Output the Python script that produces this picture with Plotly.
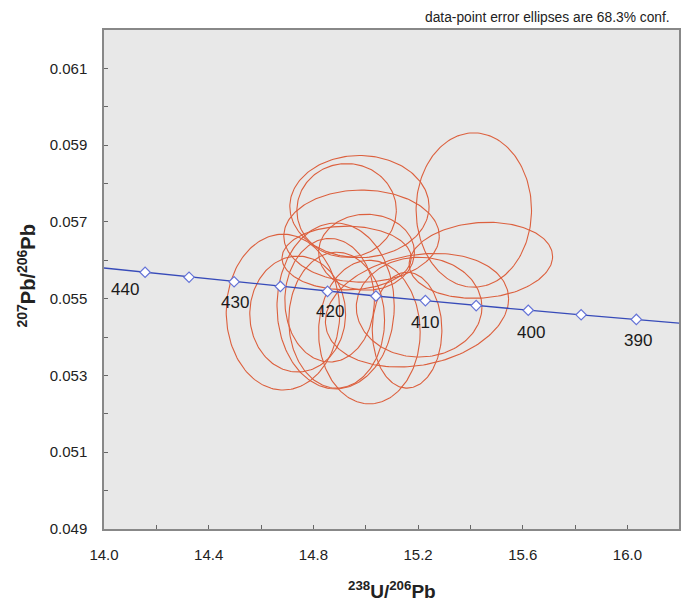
import numpy as np
import plotly.graph_objects as go

# Concordia (Tera-Wasserburg) marker points
conc_age = [440, 435, 430, 425, 420, 415, 410, 405, 400, 395, 390]
conc_x = [14.157, 14.325, 14.497, 14.674, 14.854, 15.039, 15.228, 15.422, 15.621, 15.823, 16.034]
conc_y = [0.05569, 0.05556, 0.05544, 0.05532, 0.05519, 0.05507, 0.05495, 0.05482, 0.05470, 0.05458, 0.05446]
# line end points at plot edges
line_x = [14.0] + conc_x + [16.2]
line_y = [0.05580] + conc_y + [0.05436]
label_ages = [440, 430, 420, 410, 400, 390]

# Error ellipses: centre, half-extent x, half-extent y, correlation
ell_x = [15.413, 15.440, 14.976, 14.927, 14.984, 15.003, 14.684, 14.740, 15.014, 14.889, 15.158, 15.196, 15.204, 14.862, 14.885, 14.927]
ell_y = [0.05731, 0.05600, 0.05740, 0.05730, 0.05663, 0.05621, 0.05465, 0.05460, 0.05413, 0.05444, 0.05418, 0.05470, 0.05478, 0.05496, 0.05481, 0.05606]
ell_ax = [0.2205, 0.274, 0.266, 0.190, 0.297, 0.183, 0.217, 0.183, 0.194, 0.183, 0.133, 0.350, 0.240, 0.171, 0.224, 0.247]
ell_ay = [0.00201, 0.00099, 0.00133, 0.00122, 0.00120, 0.00099, 0.00203, 0.00151, 0.00187, 0.00177, 0.00151, 0.00148, 0.00130, 0.00161, 0.00216, 0.00083]
ell_rho = [0.0, 0.1, 0.0, 0.0, 0.0, 0.0, 0.0, 0.0, 0.0, 0.0, 0.0, 0.2, 0.0, 0.0, 0.0, 0.0]

x_ticks = [14.0, 14.4, 14.8, 15.2, 15.6, 16.0]
y_ticks = [0.049, 0.051, 0.053, 0.055, 0.057, 0.059, 0.061]

fig = go.Figure()

t = np.linspace(0, 2 * np.pi, 181)
for cx, cy, ax, ay, r in zip(ell_x, ell_y, ell_ax, ell_ay, ell_rho):
    ex = cx + ax * np.cos(t)
    ey = cy + ay * (r * np.cos(t) + np.sqrt(1 - r * r) * np.sin(t))
    fig.add_trace(go.Scatter(x=ex, y=ey, mode="lines",
                             line=dict(color="rgb(220,96,62)", width=1.1),
                             hoverinfo="skip", showlegend=False))

fig.add_trace(go.Scatter(x=line_x, y=line_y, mode="lines",
                         line=dict(color="rgb(55,75,185)", width=1.3),
                         showlegend=False, hoverinfo="skip"))
fig.add_trace(go.Scatter(x=conc_x, y=conc_y, mode="markers",
                         marker=dict(symbol="diamond", size=8, color="white",
                                     line=dict(color="rgb(100,115,215)", width=1.2)),
                         showlegend=False))

shifts = {440: (-20, -17), 430: (1, -21), 420: (2, -20), 410: (0, -22), 400: (3, -22), 390: (2, -21)}
for age in label_ages:
    i = conc_age.index(age)
    dx, dy = shifts[age]
    fig.add_annotation(x=conc_x[i], y=conc_y[i], text=str(age), showarrow=False,
                       xshift=dx, yshift=dy,
                       font=dict(family="Liberation Sans, Arial", size=17, color="#1a1a1a"))

fig.add_annotation(xref="paper", yref="paper", x=1.0, y=1.0, xanchor="right", yanchor="bottom",
                   xshift=-7, yshift=3,
                   text="data-point error ellipses are 68.3% conf.", showarrow=False,
                   font=dict(family="Liberation Sans Narrow, Arial Narrow, Liberation Sans", size=13.8, color="#222"))
fig.add_annotation(xref="paper", yref="paper", x=0.5, y=0, xanchor="center", yanchor="middle",
                   xshift=0, yshift=-61,
                   text="<b><sup>238</sup>U/<sup>206</sup>Pb</b>", showarrow=False,
                   font=dict(family="Liberation Sans, Arial", size=19, color="#222"))
fig.add_annotation(xref="paper", yref="paper", x=0, y=0.5, xanchor="center", yanchor="middle",
                   xshift=-78, yshift=3, textangle=-90,
                   text="<b><sup>207</sup>Pb/<sup>206</sup>Pb</b>", showarrow=False,
                   font=dict(family="Liberation Sans, Arial", size=20, color="#222"))

fig.update_xaxes(range=[14.0, 16.197], tickvals=x_ticks, ticktext=[f"{v:.1f}" for v in x_ticks],
                 ticks="inside", ticklen=4, tickcolor="#666", showgrid=False, zeroline=False,
                 showline=True, linecolor="#888", linewidth=1.5, mirror=True,
                 minor=dict(dtick=0.2, tick0=14.0, ticks="inside", ticklen=4, tickcolor="#666", showgrid=False),
                 tickfont=dict(family="Liberation Sans, Arial", size=15, color="#222"),
                 ticklabelstandoff=11)
fig.update_yaxes(range=[0.049, 0.062], tickvals=y_ticks, ticktext=[f"{v:.3f}" for v in y_ticks],
                 ticks="inside", ticklen=4, tickcolor="#666", showgrid=False, zeroline=False,
                 showline=True, linecolor="#888", linewidth=1.5, mirror=True,
                 minor=dict(dtick=0.001, tick0=0.049, ticks="inside", ticklen=4, tickcolor="#666", showgrid=False),
                 tickfont=dict(family="Liberation Sans, Arial", size=15, color="#222"),
                 ticklabelstandoff=12)

fig.update_layout(width=681, height=605, margin=dict(l=104, r=0, t=30, b=76),
                  plot_bgcolor="#e8e8e8", paper_bgcolor="white", showlegend=False)

fig.write_html("out.html", config={"displayModeBar": False},
               post_script="document.body.style.margin='0';document.body.style.overflow='hidden';")
